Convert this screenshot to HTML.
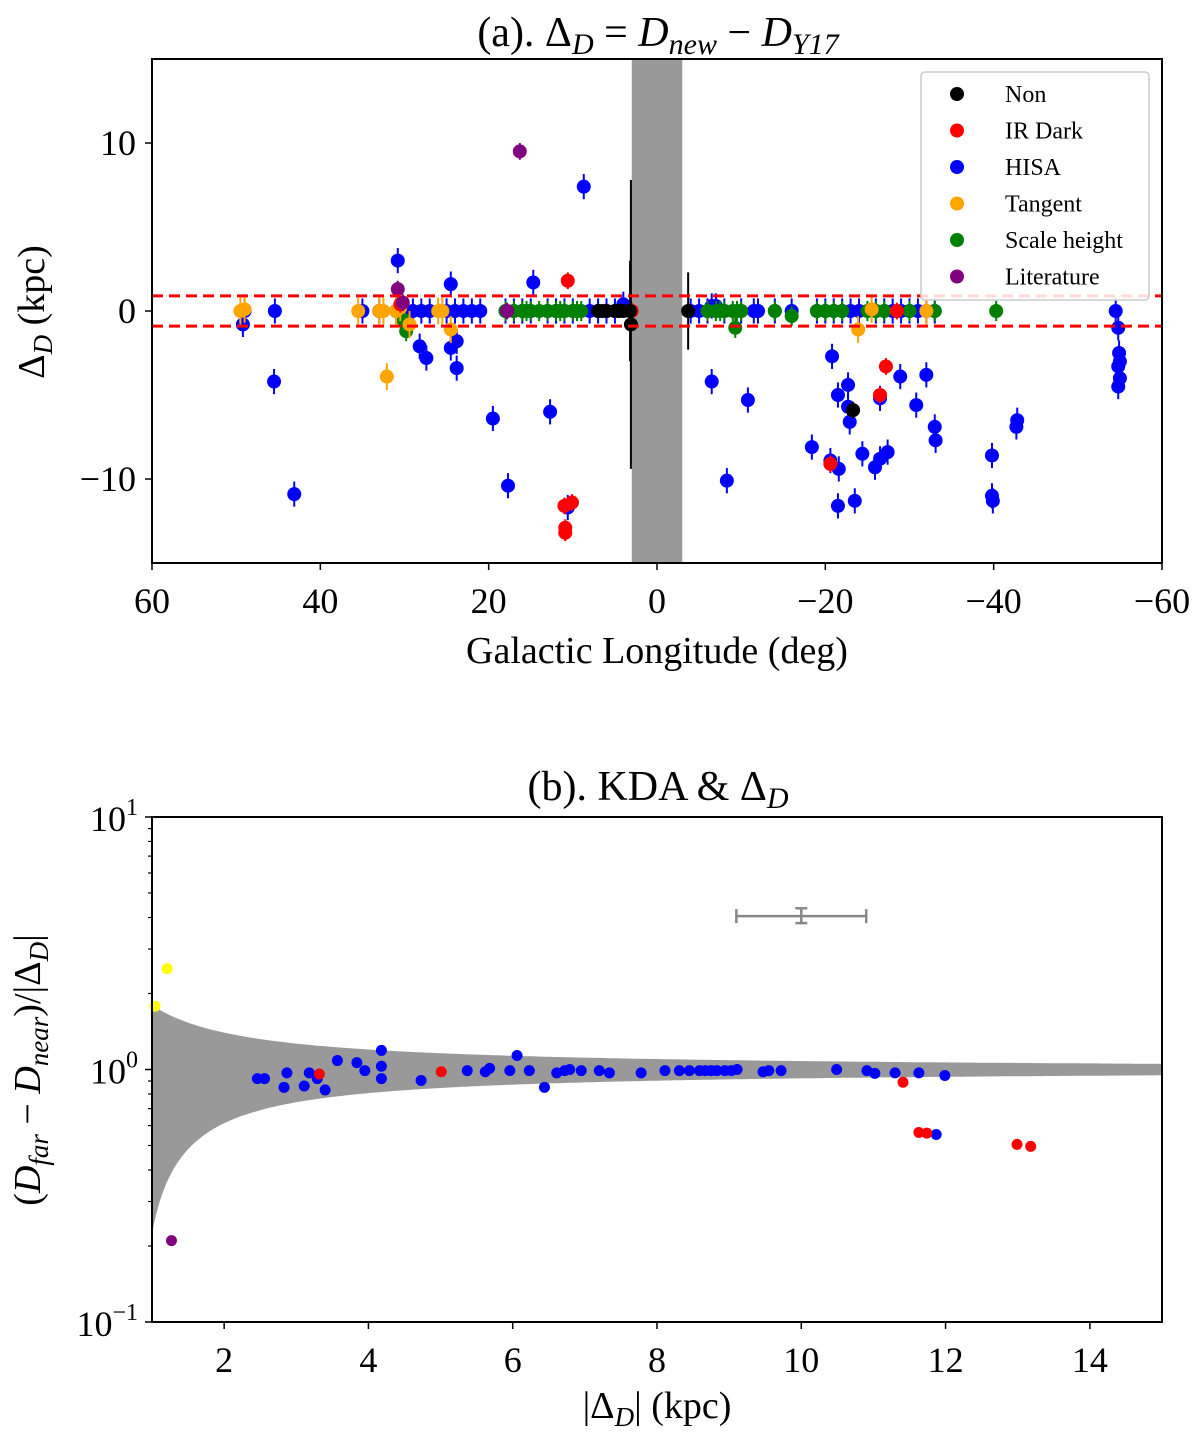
<!DOCTYPE html>
<html><head><meta charset="utf-8"><style>
body{margin:0;background:#fff;}
svg text{font-family:"Liberation Serif",serif;fill:#000;}
</style></head><body>
<svg id="fig" width="1200" height="1428" viewBox="0 0 1200 1428" xmlns="http://www.w3.org/2000/svg"></svg>
<script>
// ---------- Panel (a) data ----------
const blueLon=[49.2,45.4,45.5,43.1,30.8,28.2,27.4,24.5,24.5,23.8,23.8,19.5,17.7,14.7,12.7,10.6,8.7,-6.5,-8.3,-10.8,-20.8,-18.4,-21.5,-22.7,-22.7,-22.9,-20.6,-21.6,-21.5,-23.5,-24.4,-25.9,-26.5,-27.4,-26.5,-28.9,-30.8,-32,-33,-33.1,-39.8,-39.8,-39.9,-42.7,-42.8,-54.5,-54.8,-54.9,-55,-54.8,-55,-54.8,
49,35,33,31,30,29,28,27,25,24,23,22,21,18,17,16,15,13,12,11,10,8,7,6,5,4,-4,-5,-6,-7,-8,-10,-12,-14,-16,-19,-20,-21,-22,-23,-24,-26,-27,-28,-29,-30,-31,-32,-33,-6.5,-11.5];
const blueDelta=[-0.8,0,-4.2,-10.9,3.0,-2.1,-2.8,1.6,-2.2,-3.4,-1.8,-6.4,-10.4,1.7,-6.0,-11.7,7.4,-4.2,-10.1,-5.3,-2.7,-8.1,-5.0,-4.4,-5.7,-6.6,-8.9,-9.4,-11.6,-11.3,-8.5,-9.3,-8.8,-8.4,-5.2,-3.9,-5.6,-3.8,-6.9,-7.7,-8.6,-11,-11.3,-6.9,-6.5,0,-1,-2.5,-3,-3.3,-4,-4.5,
0,0,0,0,0,0,0,0,0,0,0,0,0,0,0,0,0,0,0,0,0,0,0,0,0,0.4,0,0,0,0.3,0,0,0,0,0,0,0,0,0,0,0,0,0,0,0,0,0,0,0,0.3,0];
const redLon=[10.6,11.0,10.1,10.9,10.9,-27.2,-26.5,-20.6,3.0,30.5,-28.5];
const redDelta=[1.8,-11.6,-11.4,-12.9,-13.2,-3.3,-5.0,-9.1,0,0.4,0];
const blackLon=[3.2,3.1,-3.7,-23.3,7,6.5,6,5,4.5,4];
const blackDelta=[0,-0.8,0,-5.9,0,0,0,0,0,0];
const blackErr=[3,8.6,2.3,0.5,0.3,0.3,0.3,0.3,0.3,0.3];
const orangeLon=[49.5,49,35.5,33,32.5,32.1,31,30.5,26,25.5,24.5,29.4,-23.9,-32,-25.5];
const orangeDelta=[0,0.1,0,0,0,-3.9,0,0.2,0,0,-1.1,-0.8,-1.1,0,0.1];
const greenLon=[18,17,16,15.5,15,14,13,12,11.5,11,10,9.5,9,-6,-7,-7.5,-8,-9,-9.5,-10,-14,-19,-20,-21,-22,-25,-26,-27,-30,-33,29.8,-9.3,-16,-40.3,30.2];
const greenDelta=[0,0,0,0,0,0,0,0,0,0,0,0,0,0,0,0,0,0,0,0,0,0,0,0,0,0,0,0,0,0,-1.2,-1,-0.3,0,-0.5];
const purpleLon=[16.3,30.8,17.8,30.2];
const purpleDelta=[9.5,1.3,0,0.5];

// ---------- Panel (b) data ----------
const bBlueX=[2.46,2.56,2.83,2.87,3.11,3.18,3.29,3.40,3.57,3.84,3.95,4.18,4.18,4.18,4.73,5.37,5.62,5.68,5.96,6.06,6.23,6.44,6.61,6.72,6.79,6.95,7.20,7.34,7.78,8.11,8.31,8.45,8.59,8.67,8.75,8.83,8.94,9.03,9.11,9.47,9.55,9.72,10.49,10.91,11.02,11.30,11.63,11.99,11.87];
const bBlueY=[0.92,0.92,0.85,0.97,0.86,0.97,0.92,0.83,1.085,1.065,0.99,1.19,1.03,0.92,0.905,0.99,0.98,1.01,0.99,1.136,0.99,0.85,0.97,0.99,1.0,0.99,0.99,0.97,0.97,0.99,0.99,0.99,0.99,0.99,0.99,0.99,0.99,0.99,1.0,0.98,0.99,0.99,1.0,0.99,0.965,0.97,0.97,0.947,0.553];
const bRedX=[3.32,5.01,11.41,11.63,11.74,12.99,13.18];
const bRedY=[0.96,0.98,0.89,0.563,0.56,0.505,0.496];
const bYellowX=[1.21,1.04];
const bYellowY=[2.51,1.78];
const bPurpleX=[1.27];
const bPurpleY=[0.21];
const aXTicks=[60,40,20,0,-20,-40,-60];
const aYTicks=[10,0,-10];
const bXTicks=[2,4,6,8,10,12,14];

const NS='http://www.w3.org/2000/svg';
const svg=document.getElementById('fig');
function el(tag,attrs,parent){const e=document.createElementNS(NS,tag);for(const k in attrs)e.setAttribute(k,attrs[k]);(parent||svg).appendChild(e);return e;}

// ---------- Panel (a) axes ----------
const A={x0:152,x1:1162,y0:59,y1:563};
const ax=v=>A.x0+(60-v)/120*(A.x1-A.x0);
const ay=v=>A.y0+(15-v)/30*(A.y1-A.y0);
const ga=el('g',{});


const band=el('rect',{x:ax(3),y:A.y0,width:ax(-3)-ax(3),height:A.y1-A.y0,fill:'#999'},ga);


function series(lons,dels,errs,color,name,defErr){
  const g=el('g',{},ga);
  
  
  lons.forEach((l,i)=>{
    const e=errs?errs[i]:defErr;
    const x=ax(l),y=ay(dels[i]);
    el('line',{x1:x,x2:x,y1:ay(dels[i]+e),y2:ay(dels[i]-e),stroke:color,'stroke-width':2},g);
    const c=el('circle',{cx:x,cy:y,r:7,fill:color},g);
    
    
  });
}
series(blueLon,blueDelta,null,'#0000ff','hisa-series',0.75);
series(greenLon,greenDelta,null,'#008000','scale-height-series',0.6);
series(orangeLon,orangeDelta,null,'#ffa500','tangent-series',0.8);
series(redLon,redDelta,null,'#ff0000','ir-dark-series',0.5);
series(purpleLon,purpleDelta,null,'#800080','literature-series',0.5);
series(blackLon,blackDelta,blackErr,'#000000','non-series',0);
[0.9,-0.9].forEach(v=>{
  const l=el('line',{x1:A.x0,x2:A.x1,y1:ay(v),y2:ay(v),stroke:'#ff0000','stroke-width':3,'stroke-dasharray':'11,6'},ga);
  
  
});
el('rect',{x:A.x0,y:A.y0,width:A.x1-A.x0,height:A.y1-A.y0,fill:'none',stroke:'#000','stroke-width':2},ga);
aXTicks.forEach(t=>{
  const x=ax(t);
  el('line',{x1:x,x2:x,y1:A.y1,y2:A.y1+7,stroke:'#000','stroke-width':1.5},ga);
  const tx=el('text',{x:x,y:A.y1+50,'font-size':36,'text-anchor':'middle'},ga);
  tx.textContent=t<0?'\u2212'+(-t):String(t);
  
  
});
aYTicks.forEach(t=>{
  const y=ay(t);
  el('line',{x1:A.x0-7,x2:A.x0,y1:y,y2:y,stroke:'#000','stroke-width':1.5},ga);
  const tx=el('text',{x:A.x0-16,y:y+12,'font-size':36,'text-anchor':'end'},ga);
  tx.textContent=t<0?'\u2212'+(-t):String(t);
  
  
});
// legend
const lg=el('g',{},ga);


el('rect',{x:921,y:72,width:228,height:228,rx:4,fill:'#fff','fill-opacity':0.85,stroke:'#ccc','stroke-width':1.5},lg);
[['Non','#000'],['IR Dark','#ff0000'],['HISA','#0000ff'],['Tangent','#ffa500'],['Scale height','#008000'],['Literature','#800080']].forEach((d,i)=>{
  const y=94+i*36.5;
  const ent=el('g',{},lg);
  
  
  el('circle',{cx:957,cy:y,r:7,fill:d[1]},ent);
  const t=el('text',{x:1005,y:y+8,'font-size':24},ent);
  t.textContent=d[0];
});
</script>
<script>
(function(){
const svg=document.getElementById('fig');
svg.insertAdjacentHTML('beforeend',`
<text x="658" y="46" font-size="42" text-anchor="middle">(a). Δ<tspan font-style="italic" font-size="30" dy="8">D</tspan><tspan dy="-8"> = </tspan><tspan font-style="italic">D</tspan><tspan font-style="italic" font-size="30" dy="8">new</tspan><tspan dy="-8"> − </tspan><tspan font-style="italic">D</tspan><tspan font-style="italic" font-size="30" dy="8">Y17</tspan></text>
<text x="657" y="663" font-size="38" text-anchor="middle">Galactic Longitude (deg)</text>
<text transform="translate(44,312) rotate(-90)" font-size="38" text-anchor="middle">Δ<tspan font-style="italic" font-size="27" dy="8">D</tspan><tspan dy="-8"> (kpc)</tspan></text>
<text x="658" y="800" font-size="42" text-anchor="middle">(b). KDA &amp; Δ<tspan font-style="italic" font-size="30" dy="8">D</tspan></text>
<text x="657" y="1418" font-size="38" text-anchor="middle">|Δ<tspan font-style="italic" font-size="27" dy="8">D</tspan><tspan dy="-8">| (kpc)</tspan></text>
<text transform="translate(40,1070) rotate(-90)" font-size="38" text-anchor="middle">(<tspan font-style="italic">D</tspan><tspan font-style="italic" font-size="27" dy="8">far</tspan><tspan dy="-8"> − </tspan><tspan font-style="italic">D</tspan><tspan font-style="italic" font-size="27" dy="8">near</tspan><tspan dy="-8">)/|Δ</tspan><tspan font-style="italic" font-size="27" dy="8">D</tspan><tspan dy="-8">|</tspan></text>
`);
})();
</script>
<script>
(function(){
const B={x0:152,x1:1162,y0:817,y1:1322};
const bx=v=>B.x0+(v-1)/14*(B.x1-B.x0);
const by=v=>B.y0+(1-Math.log10(v))/2*(B.y1-B.y0);
const gb=el('g',{});


let up='',lo='';
for(let x=1;x<=15.001;x+=0.05){up+=(up?'L':'M')+bx(x).toFixed(1)+','+by(1+0.8/x).toFixed(1);}
for(let x=15;x>=0.999;x-=0.05){lo+='L'+bx(x).toFixed(1)+','+by(1-0.775/x).toFixed(1);}
const sh=el('path',{d:up+lo+'Z',fill:'#999'},gb);


function pts(xs,ys,color,name){
  const g=el('g',{},gb);
  
  
  xs.forEach((x,i)=>{
    const c=el('circle',{cx:bx(x),cy:by(ys[i]),r:5.5,fill:color},g);
    
    
  });
}
pts(bBlueX,bBlueY,'#0000ff','hisa-points');
pts(bRedX,bRedY,'#ff0000','ir-dark-points');
pts(bYellowX,bYellowY,'#ffff00','yellow-points');
pts(bPurpleX,bPurpleY,'#800080','literature-points');
const eg=el('g',{},gb);


const ex=10,ey=4.05;
el('line',{x1:bx(ex-0.9),x2:bx(ex+0.9),y1:by(ey),y2:by(ey),stroke:'#888','stroke-width':2.5},eg);
[ex-0.9,ex+0.9].forEach(v=>el('line',{x1:bx(v),x2:bx(v),y1:by(ey)-7,y2:by(ey)+7,stroke:'#888','stroke-width':2.5},eg));
el('line',{x1:bx(ex),x2:bx(ex),y1:by(4.35),y2:by(3.8),stroke:'#888','stroke-width':2.5},eg);
[4.35,3.8].forEach(v=>el('line',{x1:bx(ex)-6,x2:bx(ex)+6,y1:by(v),y2:by(v),stroke:'#888','stroke-width':2.5},eg));
el('rect',{x:B.x0,y:B.y0,width:B.x1-B.x0,height:B.y1-B.y0,fill:'none',stroke:'#000','stroke-width':2},gb);
bXTicks.forEach(t=>{
  const x=bx(t);
  el('line',{x1:x,x2:x,y1:B.y1,y2:B.y1+7,stroke:'#000','stroke-width':1.5},gb);
  const tx=el('text',{x:x,y:B.y1+50,'font-size':36,'text-anchor':'middle'},gb);
  tx.textContent=String(t);
  
  
});
[[1,'1'],[0,'0'],[-1,'\u22121']].forEach(d=>{
  const y=by(Math.pow(10,d[0]));
  el('line',{x1:B.x0-7,x2:B.x0,y1:y,y2:y,stroke:'#000','stroke-width':1.5},gb);
  const tx=el('text',{x:B.x0-14,y:y+14,'font-size':36,'text-anchor':'end'},gb);
  tx.innerHTML='10<tspan font-size="24" dy="-16">'+d[1]+'</tspan>';
  
  
});
for(let e=-1;e<1;e++)for(let m=2;m<=9;m++){
  const y=by(m*Math.pow(10,e));
  el('line',{x1:B.x0-4,x2:B.x0,y1:y,y2:y,stroke:'#000','stroke-width':1.2},gb);
}
})();
</script>
</body></html>
